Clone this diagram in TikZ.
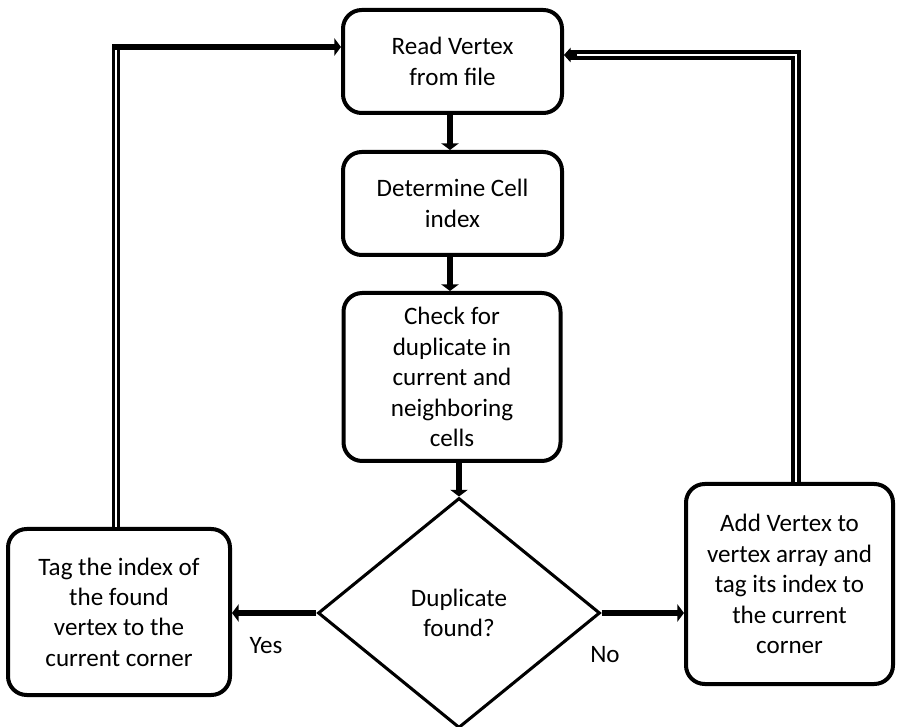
\documentclass[tikz,border=0pt]{standalone}
\usepackage{fontspec}
\setmainfont{Carlito}
\usetikzlibrary{arrows.meta,shapes.geometric}

\begin{document}
\begin{tikzpicture}[x=0.75pt,y=-0.75pt,
  every node/.style={font=\fontsize{18.8}{22.8}\selectfont},
  procbox/.style={draw, line width=3pt, rounded corners=14pt, align=center,
    inner sep=0pt},
  decision/.style={draw, diamond, line width=2.3pt, align=center, inner sep=0pt},
  flow/.style={line width=5pt, -{Triangle[length=5pt,width=13pt]}},
  loopline/.style={double, line width=2.2pt, double distance=1.3pt},
  loopwide/.style={double, line width=2.5pt, double distance=2.2pt},
  looptip/.style={line width=0.8pt, -{Triangle[length=5pt,width=11pt]}}]
\useasboundingbox (0,0) rectangle (901,727);

% process steps
\node[procbox, minimum width={219*0.75pt}, minimum height={103*0.75pt}]
  (read) at (452.5,61.5) {Read Vertex\\from file};
\node[procbox, minimum width={219*0.75pt}, minimum height={103*0.75pt}]
  (cell) at (452.5,203.5) {Determine Cell\\index};
\node[procbox, minimum width={217*0.75pt}, minimum height={168*0.75pt}]
  (check) at (452,377) {Check for\\duplicate in\\current and\\neighboring\\cells};
\node[decision, minimum width={282*0.75pt}, minimum height={230*0.75pt}]
  (dup) at (459,613) {Duplicate\\found?};
\node[procbox, minimum width={222*0.75pt}, minimum height={166*0.75pt}]
  (found) at (119,612) {Tag the index of\\the found\\vertex to the\\current corner};
\node[procbox, minimum width={207*0.75pt}, minimum height={200*0.75pt}]
  (add) at (789.5,584) {Add Vertex to\\vertex array and\\tag its index to\\the current\\corner};

% main flow
\draw[flow] (read.south -| 450,0) -- (cell.north -| 450,0);
\draw[flow] (cell.south -| 450,0) -- (check.north -| 450,0);
\draw[flow] (check.south -| dup.north) -- (dup.north);
\draw[flow] (dup.west) -- (found.east |- dup.west);
\draw[flow] (dup.east) -- (add.west |- dup.east);
\node (yes) at (266,646) {Yes};
\node (no) at (605,655) {No};

% return loops
\coordinate (lcorner) at (116,47);
\coordinate (rcorner) at (796,55);
\coordinate (rin) at (read.east |- rcorner);
\draw[loopline] (found.north -| lcorner) -- ([yshift=-2.5pt]lcorner);
\draw[flow] ([xshift=-3pt]lcorner) -- (read.west |- lcorner);
\draw[loopwide, shorten >=3pt] (add.north -| rcorner) -- (rcorner) -- (rin);
\draw[looptip] ([xshift=10pt]rin) -- (rin);
\end{tikzpicture}
\end{document}
